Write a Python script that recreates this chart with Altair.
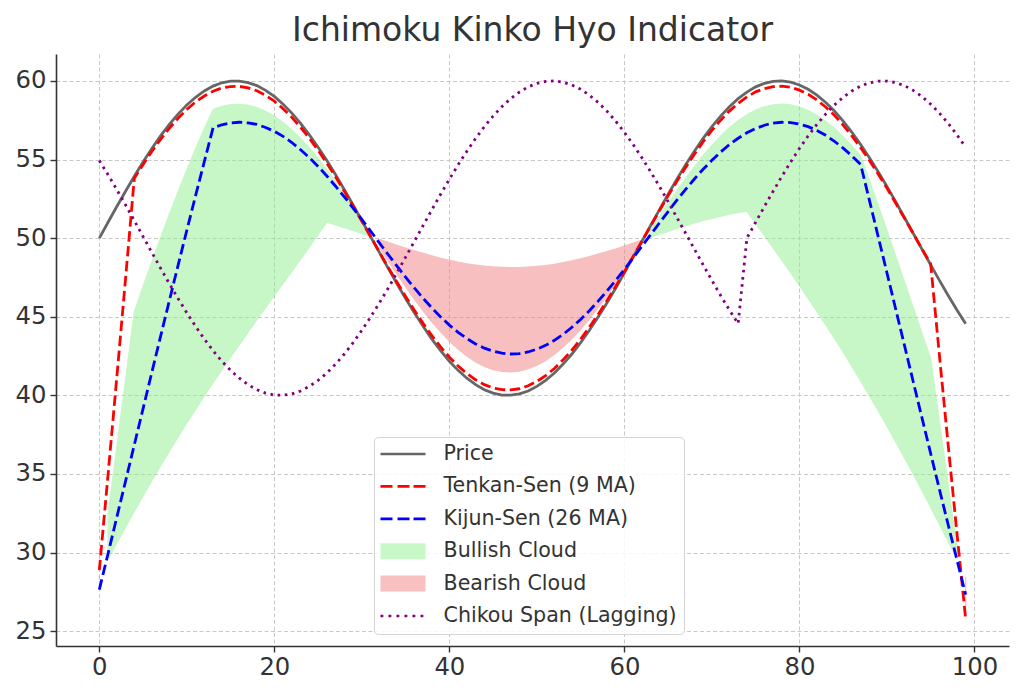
import altair as alt
import pandas as pd

# ---- data ----
price = [50.00, 51.01, 52.01, 52.98, 53.93, 54.84, 55.70, 56.50, 57.23, 57.89,
         58.47, 58.96, 59.36, 59.67, 59.88, 59.98, 59.99, 59.89, 59.70, 59.40,
         59.01, 58.52, 57.95, 57.30, 56.57, 55.78, 54.93, 54.03, 53.08, 52.11,
         51.11, 50.10, 49.09, 48.09, 47.11, 46.16, 45.25, 44.39, 43.58, 42.84,
         42.17, 41.59, 41.09, 40.68, 40.36, 40.14, 40.02, 40.01, 40.09, 40.28,
         40.57, 40.95, 41.42, 41.99, 42.63, 43.35, 44.14, 44.98, 45.88, 46.81,
         47.79, 48.79, 49.79, 50.80, 51.80, 52.79, 53.74, 54.66, 55.53, 56.34,
         57.09, 57.76, 58.36, 58.87, 59.29, 59.62, 59.84, 59.97, 60.00, 59.92,
         59.74, 59.47, 59.09, 58.63, 58.08, 57.44, 56.73, 55.95, 55.11, 54.22,
         53.29, 52.31, 51.31, 50.31, 49.30, 48.30, 47.31, 46.35, 45.43, 44.56]

tenkan = [28.88, 34.97, 41.16, 47.44, 53.80, 54.68, 55.51, 56.28, 56.99, 57.62,
          58.18, 58.66, 59.04, 59.34, 59.55, 59.64, 59.65, 59.56, 59.37, 59.08,
          58.71, 58.23, 57.68, 57.05, 56.35, 55.59, 54.76, 53.89, 52.98, 52.04,
          51.07, 50.10, 49.12, 48.15, 47.21, 46.29, 45.41, 44.58, 43.80, 43.08,
          42.43, 41.87, 41.39, 40.99, 40.68, 40.47, 40.36, 40.35, 40.42, 40.61,
          40.89, 41.25, 41.71, 42.26, 42.88, 43.57, 44.34, 45.15, 46.02, 46.92,
          47.86, 48.83, 49.80, 50.77, 51.74, 52.70, 53.61, 54.50, 55.34, 56.13,
          56.85, 57.50, 58.08, 58.57, 58.98, 59.30, 59.51, 59.63, 59.66, 59.59,
          59.41, 59.15, 58.78, 58.34, 57.81, 57.19, 56.50, 55.75, 54.94, 54.08,
          53.18, 52.23, 51.27, 50.30, 49.32, 48.36, 42.54, 36.84, 31.25, 25.77]

kijun = [27.65, 29.94, 32.25, 34.55, 36.86, 39.16, 41.46, 43.75, 46.02, 48.27,
         50.50, 52.70, 54.87, 57.02, 57.21, 57.33, 57.37, 57.33, 57.23, 57.04,
         56.79, 56.47, 56.08, 55.62, 55.12, 54.56, 53.95, 53.30, 52.62, 51.91,
         51.19, 50.45, 49.70, 48.96, 48.23, 47.52, 46.83, 46.18, 45.56, 44.99,
         44.47, 44.01, 43.61, 43.27, 43.00, 42.81, 42.68, 42.63, 42.66, 42.76,
         42.94, 43.18, 43.50, 43.88, 44.33, 44.83, 45.38, 45.99, 46.63, 47.31,
         48.01, 48.74, 49.48, 50.22, 50.96, 51.69, 52.41, 53.10, 53.76, 54.38,
         54.95, 55.48, 55.95, 56.35, 56.70, 56.97, 57.18, 57.31, 57.37, 57.35,
         57.25, 57.09, 56.85, 56.54, 56.16, 55.72, 55.23, 54.68, 52.40, 50.10,
         47.80, 45.49, 43.19, 40.88, 38.58, 36.30, 34.02, 31.77, 29.54, 27.33]

span_a = [28.27, 32.46, 36.71, 41.00, 45.33, 46.92, 48.49, 50.02, 51.51, 52.95,
          54.34, 55.68, 56.96, 58.18, 58.38, 58.49, 58.51, 58.45, 58.30, 58.06,
          57.75, 57.35, 56.88, 56.34, 55.74, 55.08, 54.36, 53.60, 52.80, 51.98,
          51.13, 50.28, 49.41, 48.56, 47.72, 46.91, 46.12, 45.38, 44.68, 44.04,
          43.45, 42.94, 42.50, 42.13, 41.84, 41.64, 41.52, 41.49, 41.54, 41.69,
          41.92, 42.22, 42.61, 43.07, 43.61, 44.20, 44.86, 45.57, 46.33, 47.12,
          47.94, 48.79, 49.64, 50.50, 51.35, 52.20, 53.01, 53.80, 54.55, 55.26,
          55.90, 56.49, 57.02, 57.46, 57.84, 58.14, 58.35, 58.47, 58.52, 58.47,
          58.33, 58.12, 57.82, 57.44, 56.99, 56.46, 55.87, 55.22, 53.67, 52.09,
          50.49, 48.86, 47.23, 45.59, 43.95, 42.33, 38.28, 34.31, 30.40, 26.55]

span_b = [28.51, 29.57, 30.61, 31.63, 32.63, 33.61, 34.57, 35.52, 36.44, 37.35,
          38.24, 39.11, 39.96, 40.80, 41.62, 42.43, 43.23, 44.02, 44.81, 45.58,
          46.35, 47.12, 47.89, 48.66, 49.44, 50.22, 51.01, 50.84, 50.67, 50.49,
          50.30, 50.11, 49.92, 49.74, 49.55, 49.37, 49.19, 49.03, 48.87, 48.72,
          48.59, 48.47, 48.37, 48.29, 48.22, 48.17, 48.14, 48.12, 48.13, 48.16,
          48.20, 48.26, 48.34, 48.44, 48.55, 48.68, 48.82, 48.98, 49.14, 49.31,
          49.49, 49.68, 49.87, 50.06, 50.25, 50.43, 50.61, 50.79, 50.96, 51.12,
          51.26, 51.40, 51.52, 51.62, 51.71, 50.94, 50.16, 49.38, 48.59, 47.80,
          46.99, 46.17, 45.34, 44.49, 43.62, 42.74, 41.84, 40.92, 39.98, 39.03,
          38.05, 37.05, 36.04, 35.00, 33.95, 32.88, 31.80, 30.70, 29.59, 28.47]

chikou = [54.93, 54.03, 53.08, 52.11, 51.11, 50.10, 49.09, 48.09, 47.11, 46.16,
          45.25, 44.39, 43.58, 42.84, 42.17, 41.59, 41.09, 40.68, 40.36, 40.14,
          40.02, 40.01, 40.09, 40.28, 40.57, 40.95, 41.42, 41.99, 42.63, 43.35,
          44.14, 44.98, 45.88, 46.81, 47.79, 48.79, 49.79, 50.80, 51.80, 52.79,
          53.74, 54.66, 55.53, 56.34, 57.09, 57.76, 58.36, 58.87, 59.29, 59.62,
          59.84, 59.97, 60.00, 59.92, 59.74, 59.47, 59.09, 58.63, 58.08, 57.44,
          56.73, 55.95, 55.11, 54.22, 53.29, 52.31, 51.31, 50.31, 49.30, 48.30,
          47.31, 46.35, 45.43, 44.56, 50.00, 51.01, 52.01, 52.98, 53.93, 54.84,
          55.70, 56.50, 57.23, 57.89, 58.47, 58.96, 59.36, 59.67, 59.88, 59.98,
          59.99, 59.89, 59.70, 59.40, 59.01, 58.52, 57.95, 57.30, 56.57, 55.78]

legend_names = ["Price", "Tenkan-Sen (9 MA)", "Kijun-Sen (26 MA)",
                "Bullish Cloud", "Bearish Cloud", "Chikou Span (Lagging)"]
legend_colors = ["#666666", "#ff0000", "#0000ff", "#c8f7c8", "#f8c0c0", "#800080"]
x_ticks = [0, 20, 40, 60, 80, 100]
y_ticks = [25, 30, 35, 40, 45, 50, 55, 60]
title_text = "Ichimoku Kinko Hyo Indicator"

# ---- legend symbol shapes (unit = 10.5 px; symbol spans x -1 .. 3.29) ----
def bars(segments, half):
    return " ".join(f"M{a:.3f},-{half}H{b:.3f}V{half}H{a:.3f}Z" for a, b in segments)

solid_path = bars([(-1.0, 3.286)], 0.13)
dash_path = bars([(-1.0, 0.143), (0.619, 1.762), (2.143, 3.286)], 0.13)
rect_path = bars([(-1.0, 3.286)], 0.76)
dot_path = bars([(s, s + 0.27) for s in [-1.0, -0.238, 0.524, 1.286, 2.048, 2.81]], 0.13)
legend_paths = [solid_path, dash_path, dash_path, rect_path, rect_path, dot_path]


def series_df(vals):
    return pd.DataFrame({"x": list(range(len(vals))), "y": vals})


# cloud table: runs where span A >= span B (bullish) or not (bearish)
n = min(len(span_a), len(span_b))
rows, run, prev = [], 0, None
for i in range(n):
    bull = span_a[i] >= span_b[i]
    if bull != prev:
        run += 1
        prev = bull
    rows.append({"x": i, "a": span_a[i], "b": span_b[i], "run": run,
                 "kind": "bull" if bull else "bear"})
cloud = pd.DataFrame(rows)

xs = alt.Scale(domain=[-4.95, 103.95], nice=False, zero=False)
ys = alt.Scale(domain=[24.06, 61.71], nice=False, zero=False)
xax = alt.Axis(values=x_ticks, format="d", title=None)
yax = alt.Axis(values=y_ticks, format="d", title=None)


def area_layer(kind, color):
    return (alt.Chart(cloud)
            .transform_filter(f"datum.kind == '{kind}'")
            .mark_area(color=color, opacity=0.5, stroke=color, strokeWidth=1.2,
                       interpolate="linear")
            .encode(x=alt.X("x:Q", scale=xs, axis=xax),
                    y=alt.Y("a:Q", scale=ys, axis=yax),
                    y2="b:Q",
                    detail="run:N"))


def line_layer(vals, color, dash=None, width=2.8):
    kw = dict(color=color, strokeWidth=width)
    if dash:
        kw["strokeDash"] = dash
    return (alt.Chart(series_df(vals))
            .mark_line(**kw)
            .encode(x=alt.X("x:Q", scale=xs, axis=xax),
                    y=alt.Y("y:Q", scale=ys, axis=yax)))


leg = alt.Legend(title=None, orient="none", legendX=318, legendY=383,
                 symbolSize=441, symbolStrokeWidth=0, symbolOpacity=1,
                 labelFontSize=20.6, labelFont="DejaVu Sans", labelColor="#333333",
                 labelOffset=42, rowPadding=10.4, padding=6.5,
                 strokeColor="#d4d4d4", fillColor="rgba(255,255,255,0.85)",
                 cornerRadius=4, labelLimit=400)

legend_df = pd.DataFrame({"series": legend_names, "x": [0] * len(legend_names),
                          "y": [40] * len(legend_names)})
legend_layer = (alt.Chart(legend_df)
                .transform_filter("datum.x > 1000")
                .mark_point(filled=True, opacity=1)
                .encode(x=alt.X("x:Q", scale=xs, axis=xax),
                        y=alt.Y("y:Q", scale=ys, axis=yax),
                        color=alt.Color("series:N", scale=alt.Scale(domain=legend_names, range=legend_colors), legend=leg),
                        shape=alt.Shape("series:N", scale=alt.Scale(domain=legend_names, range=legend_paths), legend=leg)))

chart = alt.layer(
    area_layer("bull", "#90ee90"),
    area_layer("bear", "#f08080"),
    line_layer(price, "#666666"),
    line_layer(tenkan, "#ff0000", [10.5, 4.5]),
    line_layer(kijun, "#0000ff", [10.5, 4.5]),
    line_layer(chikou, "#800080", [2.6, 4.6]),
    legend_layer,
).properties(
    width=953, height=592,
    title=alt.TitleParams(title_text, fontSize=33, font="DejaVu Sans",
                          fontWeight="normal", color="#333333", anchor="middle", offset=6),
    autosize=alt.AutoSizeParams(type="none"),
    padding={"left": 48, "top": 46, "right": 5, "bottom": 34},
).configure(font="DejaVu Sans").configure_view(stroke=None).configure_axis(
    labelFont="DejaVu Sans", labelFontSize=24.3, labelColor="#333333",
    domainColor="#333333", domainWidth=1.6, tickColor="#333333", tickWidth=1.4,
    tickSize=6, grid=True, gridColor="#c8c8c8", gridDash=[4, 2.5], gridWidth=1,
).configure_axisX(labelPadding=3).configure_axisY(labelPadding=4)

chart.save("out.html", embed_options={"renderer": "svg", "actions": False})
